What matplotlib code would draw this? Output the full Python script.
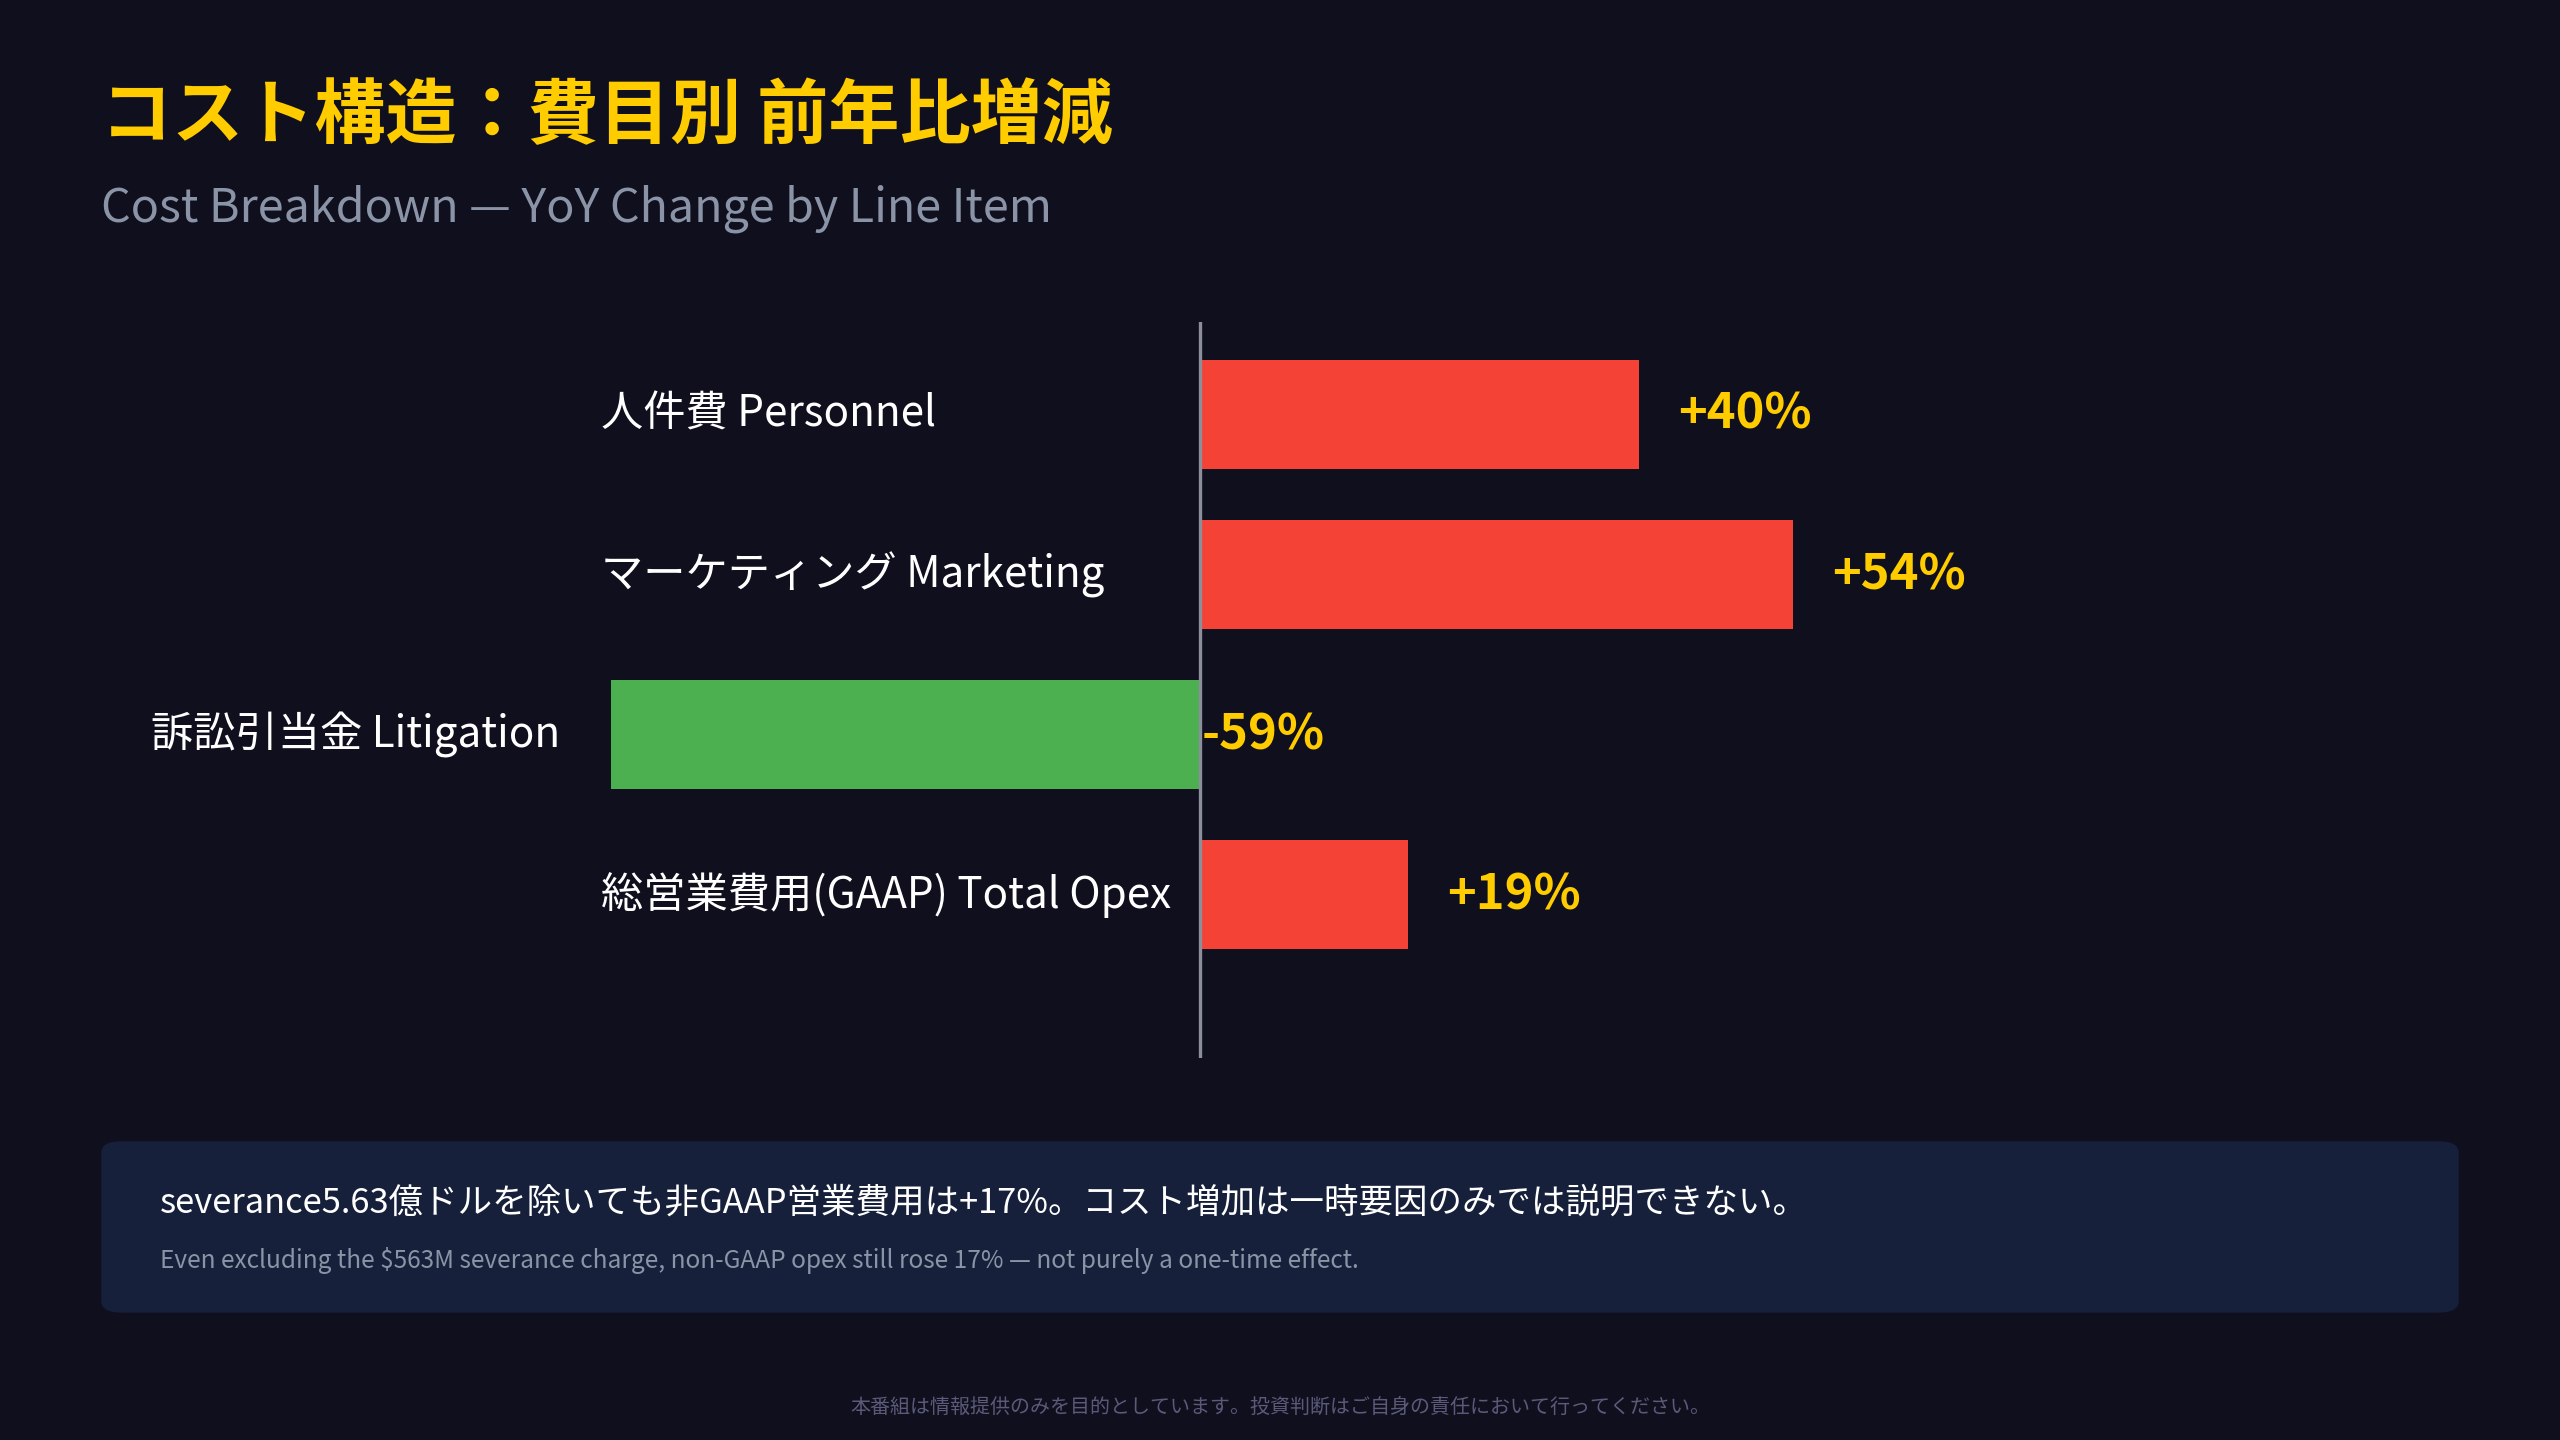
import matplotlib
matplotlib.use("Agg")
import matplotlib.pyplot as plt
from matplotlib.patches import FancyBboxPatch
import matplotlib.transforms as mtransforms

plt.rcParams['font.family'] = ['Noto Sans CJK JP', 'DejaVu Sans']

categories = ["人件費 Personnel", "マーケティング Marketing", "訴訟引当金 Litigation", "総営業費用(GAAP) Total Opex"]
values = [40, 54, -59, 19]
value_labels = ["+40%", "+54%", "-59%", "+19%"]

BG = "#0f0f1e"
RED = "#f44336"
GREEN = "#4caf50"
YELLOW = "#ffcc00"

W, H = 1568, 882
fig = plt.figure(figsize=(16, 9), dpi=160, facecolor=BG)

ax = fig.add_axes([374 / W, 1 - 648 / H, (1500 - 374) / W, 451 / H])
ax.set_facecolor(BG)
ys = list(range(len(categories)))
colors = [RED if v >= 0 else GREEN for v in values]
ax.barh(ys, values, height=0.68, color=colors, zorder=2)
ax.set_xlim(-53.6, 113.7)
ax.set_ylim(4.02, -0.58)
ax.axvline(0, color="#8a8f9a", lw=1.5, zorder=3)
for s in ax.spines.values():
    s.set_visible(False)
ax.set_xticks([])
ax.set_yticks([])

px = 1.633 * 72 / 160  # display px -> points
for y, v, cat, lab in zip(ys, values, categories, value_labels):
    if v >= 0:
        trans = mtransforms.blended_transform_factory(fig.transFigure, ax.transData)
        ax.text(368 / W, y, cat, transform=trans, ha="left", va="center",
                color="white", fontsize=19)
        off = mtransforms.offset_copy(ax.transData, fig=fig, x=24 * px, units="points")
        ax.text(v, y, lab, transform=off, ha="left", va="center",
                color=YELLOW, fontsize=22, fontweight="bold")
    else:
        off = mtransforms.offset_copy(ax.transData, fig=fig, x=-31 * px, units="points")
        ax.text(ax.get_xlim()[0], y, cat, transform=off, ha="right", va="center",
                color="white", fontsize=19)
        off2 = mtransforms.offset_copy(ax.transData, fig=fig, x=1 * px, units="points")
        ax.text(0, y, lab, transform=off2, ha="left", va="center",
                color=YELLOW, fontsize=22, fontweight="bold", zorder=4)

fig.text(62 / W, 1 - 72 / H, "コスト構造：費目別 前年比増減", color=YELLOW,
         fontsize=32, fontweight="bold", va="center", ha="left")
fig.text(62 / W, 1 - 128 / H, "Cost Breakdown — YoY Change by Line Item", color="#8a94a6",
         fontsize=21, va="center", ha="left")

box = FancyBboxPatch((62 / W, 1 - 804 / H), (1506 - 62) / W, 105 / H,
                     boxstyle="round,pad=0,rounding_size=0.008",
                     transform=fig.transFigure, facecolor="#16203a", edgecolor="none")
fig.patches.append(box)
fig.text(98 / W, 1 - 737 / H,
         "severance5.63億ドルを除いても非GAAP営業費用は+17%。コスト増加は一時要因のみでは説明できない。",
         color="white", fontsize=15.5, va="center", ha="left")
fig.text(98 / W, 1 - 772 / H,
         "Even excluding the $563M severance charge, non-GAAP opex still rose 17% — not purely a one-time effect.",
         color="#8a94a6", fontsize=11, va="center", ha="left")
fig.text(0.5, 1 - 862 / H,
         "本番組は情報提供のみを目的としています。投資判断はご自身の責任において行ってください。",
         color="#5a5a7a", fontsize=9, va="center", ha="center")

fig.savefig("out.png", dpi=160, facecolor=BG)
